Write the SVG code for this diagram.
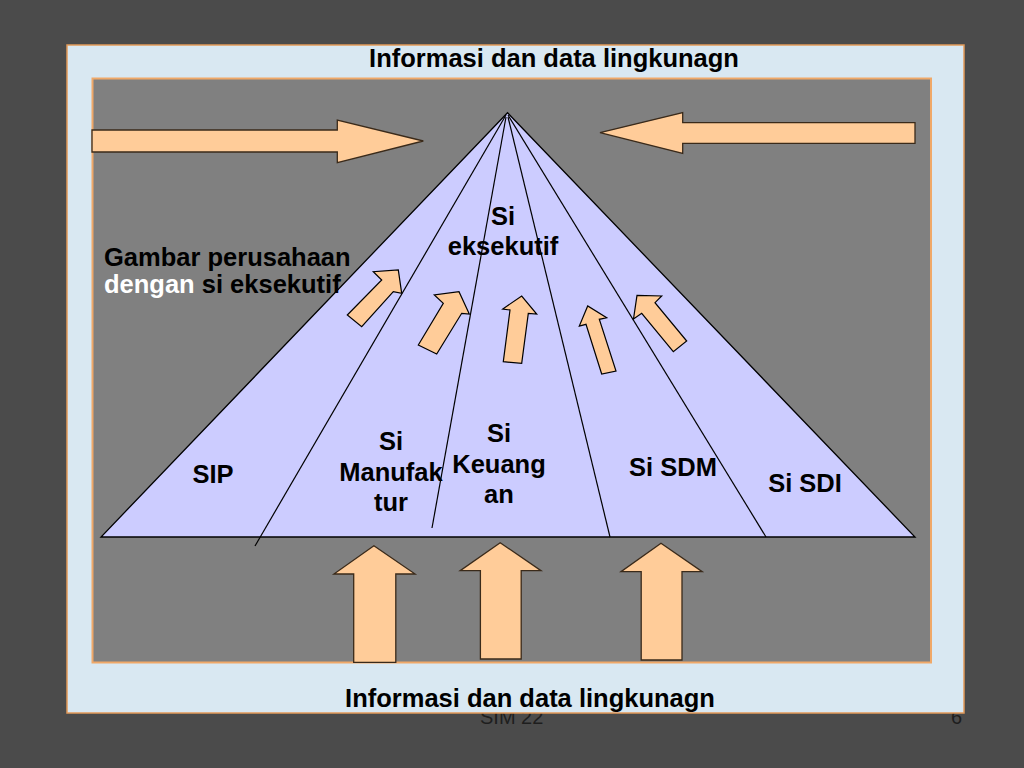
<svg xmlns="http://www.w3.org/2000/svg" width="1024" height="768" viewBox="0 0 1024 768">
<style>
.t{font-family:"Liberation Sans",Arial,sans-serif;font-weight:bold;font-size:25.5px;fill:#000;text-anchor:middle}
.cap{font-family:"Liberation Sans",Arial,sans-serif;font-weight:bold;font-size:25.5px;fill:#000;text-anchor:start}
.foot{font-family:"Liberation Sans",Arial,sans-serif;font-size:20px;fill:#1e1e1e}
.sa{fill:#ffcc99;stroke:#000;stroke-width:1.2;stroke-linejoin:miter}
.ba{fill:#ffcc99;stroke:#3a2a1a;stroke-width:1.3}
.div{stroke:#000;stroke-width:1.2;fill:none}
</style>
<rect x="0" y="0" width="1024" height="768" fill="#4b4b4b"/>
<text class="foot" x="480" y="724">SIM 22</text>
<text class="foot" x="962" y="724" text-anchor="end">6</text>
<rect id="frame" x="67" y="45" width="897" height="668" fill="#d9e8f2" stroke="#e29a5a" stroke-width="1.5"/>
<rect id="panel" x="92.5" y="78.5" width="838.5" height="584" fill="#808080" stroke="#f0a868" stroke-width="2"/>
<g id="pyramid">
<polygon points="507.5,112.7 101,537 915,537" fill="#ccccff" stroke="#000" stroke-width="1.3"/>
</g>
<g id="connectors">
<line class="div" x1="506" y1="115" x2="255" y2="546"/>
<line class="div" x1="506" y1="117" x2="432" y2="528"/>
<line class="div" x1="508" y1="117" x2="610" y2="537"/>
<line class="div" x1="508" y1="115" x2="766" y2="537"/>
</g>
<g id="arrows">
<polygon class="ba" points="92,130 337.3,130 337.3,120 423.3,141 337.3,162.7 337.3,152 92,152" stroke="#e69850"/>
<polygon class="ba" points="915,122.7 682.7,122.7 682.7,112.7 600,132.7 682.7,153.3 682.7,143.3 915,143.3"/>
<polygon class="ba" points="353.7,662.3 353.7,574 333.9,574 373.9,545.7 415.1,574 395.8,574 395.8,662.3"/>
<polygon class="ba" points="480.4,659 480.4,570.7 460.2,570.7 500.2,542.7 541,570.7 521.2,570.7 521.2,659"/>
<polygon class="ba" points="641.2,660 641.2,571.7 621,571.7 661,543.3 702.2,571.7 682,571.7 682,660"/>
<polygon class="sa" points="347.3,315 381.7,280 373.3,271.7 398.3,270 401.7,293.3 393.3,291.7 361.7,326.7"/>
<polygon class="sa" points="418.3,345 443.3,303.3 434.3,295 459,291.7 469.3,314 461.7,313.3 436.7,354"/>
<polygon class="sa" points="503.3,361.7 510,310 502.7,309 521.7,296 536.7,314 528.3,313.3 521.7,363.3"/>
<polygon class="sa" points="601.7,374 586,324.3 579.3,326 587.7,306 606.7,317.8 599.3,319.3 616,371"/>
<polygon class="sa" points="673.3,351.7 641.7,313.3 633.5,319 637,295.3 661.7,296 655,302.7 686.7,341"/>
</g>
<g id="title-top"><text class="t" x="554" y="67">Informasi dan data lingkunagn</text></g>
<g id="title-bottom"><text class="t" x="530" y="707">Informasi dan data lingkunagn</text></g>
<g id="caption">
<text class="cap" x="104" y="266">Gambar perusahaan</text>
<text class="cap" x="104" y="293"><tspan fill="#ffffff">dengan</tspan> si eksekutif</text>
</g>
<g id="node-eksekutif"><text class="t" x="503" y="225">Si</text><text class="t" x="503" y="255">eksekutif</text></g>
<g id="node-sip"><text class="t" x="213" y="483">SIP</text></g>
<g id="node-manufaktur"><text class="t" x="391" y="450">Si</text><text class="t" x="391" y="481">Manufak</text><text class="t" x="391" y="511">tur</text></g>
<g id="node-keuangan"><text class="t" x="499" y="442">Si</text><text class="t" x="499" y="473">Keuang</text><text class="t" x="499" y="503">an</text></g>
<g id="node-sdm"><text class="t" x="673" y="476">Si SDM</text></g>
<g id="node-sdi"><text class="t" x="805" y="492">Si SDI</text></g>
</svg>
